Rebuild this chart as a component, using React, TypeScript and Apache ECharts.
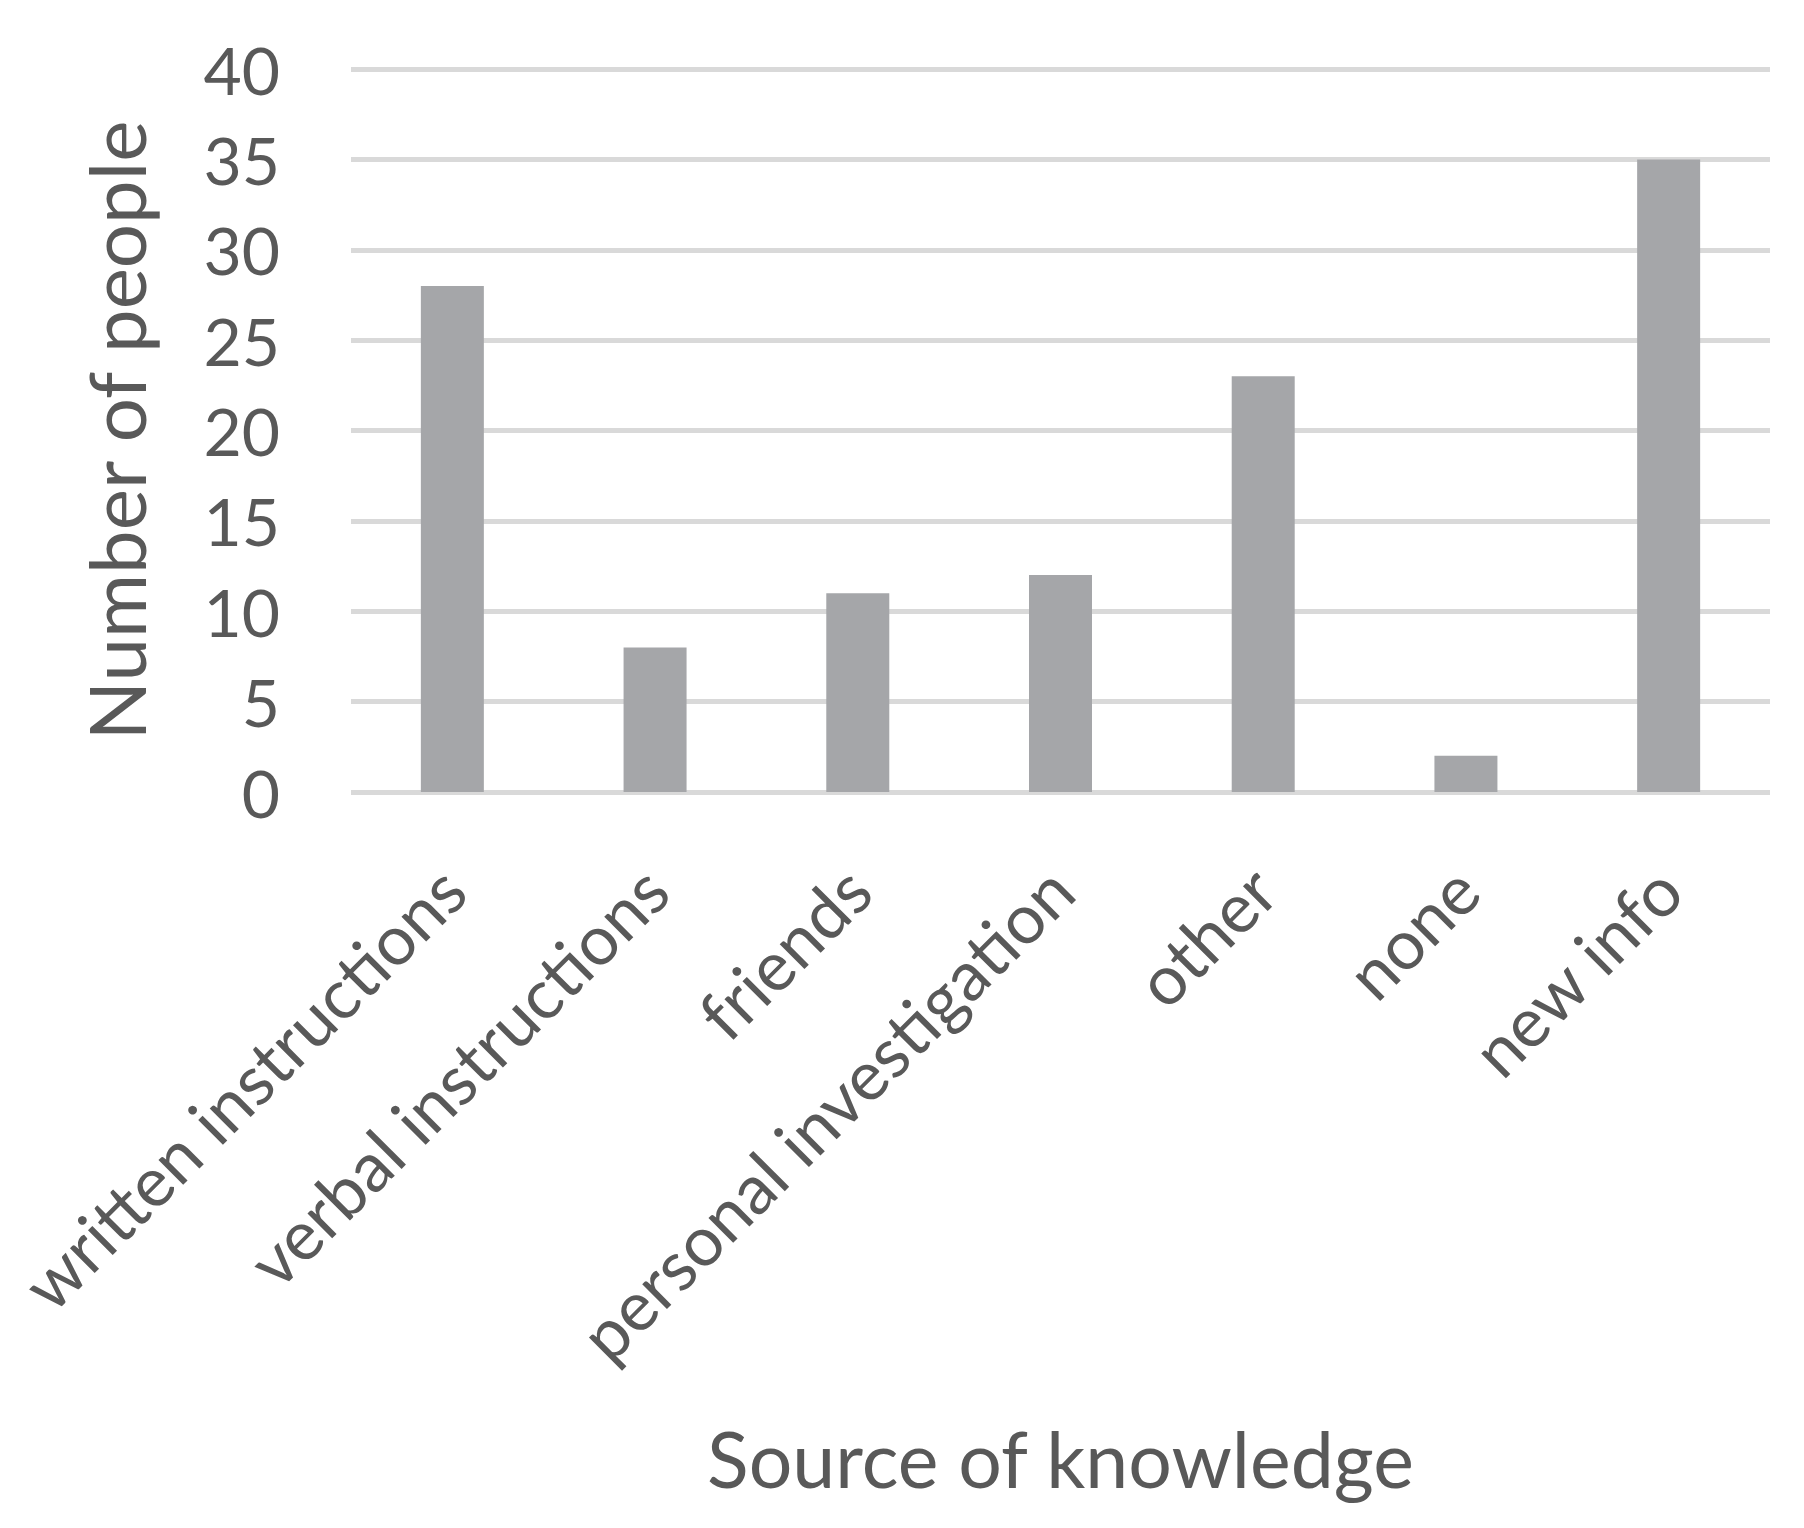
import React, { useEffect, useRef } from "react";
import * as echarts from "echarts";

const categories = [
  "written instructions",
  "verbal instructions",
  "friends",
  "personal investigation",
  "other",
  "none",
  "new info",
];
const values = [28, 8, 11, 12, 23, 2, 35];
const yMin = 0;
const yMax = 40;
const yInterval = 5;
const xTitle = "Source of knowledge";
const yTitle = "Number of people";

const FONT = "Lato";
const TEXT = "#595959";

export default function App() {
  const ref = useRef<HTMLDivElement>(null);
  useEffect(() => {
    document.body.style.margin = "0";
    if (!ref.current) return;
    const chart = echarts.init(ref.current, null, { renderer: "svg" });
    chart.setOption({
      animation: false,
      backgroundColor: "#ffffff",
      grid: { left: 351, right: 34, top: 69, bottom: 736, containLabel: false },
      xAxis: {
        type: "category",
        data: categories,
        name: xTitle,
        nameLocation: "middle",
        nameGap: 627,
        nameTextStyle: { fontFamily: FONT, fontSize: 77, color: TEXT },
        axisLine: { show: false },
        axisTick: { show: false },
        axisLabel: {
          rotate: 45,
          interval: 0,
          margin: 86,
          fontFamily: FONT,
          fontSize: 69,
          color: TEXT,
        },
      },
      yAxis: {
        type: "value",
        min: yMin,
        max: yMax,
        interval: yInterval,
        name: yTitle,
        nameLocation: "middle",
        nameGap: 196,
        nameRotate: 90,
        nameTextStyle: { fontFamily: FONT, fontSize: 78, color: TEXT },
        axisLine: { show: false },
        axisTick: { show: false },
        axisLabel: { margin: 71, fontFamily: FONT, fontSize: 66, color: TEXT },
        splitLine: { lineStyle: { color: "#d9d9d9", width: 5 } },
      },
      series: [
        {
          type: "bar",
          data: values,
          barWidth: 63,
          itemStyle: { color: "#a5a6a9" },
        },
      ],
    });
    return () => chart.dispose();
  }, []);
  return <div ref={ref} style={{ width: 1804, height: 1528 }} />;
}
